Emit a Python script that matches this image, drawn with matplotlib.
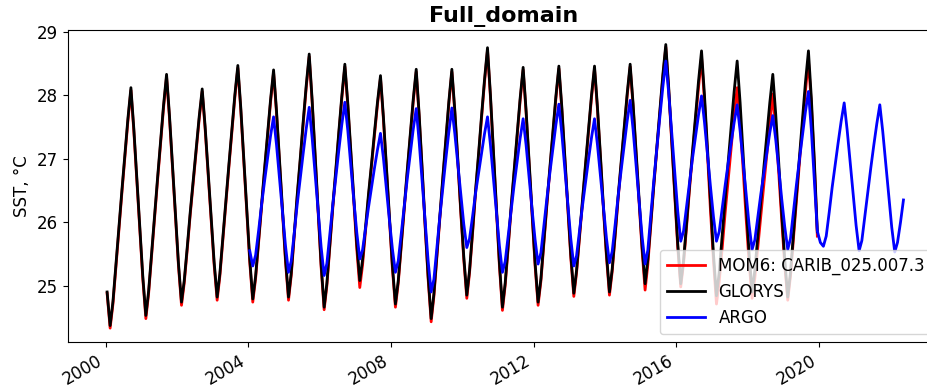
import numpy as np
import pandas as pd
import matplotlib
matplotlib.use('Agg')
import matplotlib.pyplot as plt
import matplotlib.dates as mdates

# monthly mean SST over the full domain, one row per year (Jan..Dec)
glorys_sst = [
    24.90, 24.37, 24.75, 25.35, 25.95, 26.51, 27.07, 27.63, 28.12, 27.47, 26.68, 25.89,  # 2000
    25.14, 24.53, 24.91, 25.52, 26.13, 26.70, 27.27, 27.84, 28.33, 27.68, 26.89, 26.10,  # 2001
    25.35, 24.74, 25.08, 25.61, 26.15, 26.66, 27.16, 27.66, 28.10, 27.51, 26.79, 26.07,  # 2002
    25.38, 24.82, 25.19, 25.77, 26.35, 26.90, 27.45, 28.00, 28.47, 27.81, 27.00, 26.19,  # 2003
    25.42, 24.79, 25.15, 25.73, 26.31, 26.85, 27.39, 27.93, 28.40, 27.76, 26.97, 26.18,  # 2004
    25.43, 24.82, 25.20, 25.82, 26.43, 27.00, 27.58, 28.15, 28.65, 27.93, 27.05, 26.18,  # 2005
    25.34, 24.66, 25.04, 25.66, 26.27, 26.84, 27.42, 27.99, 28.49, 27.88, 27.13, 26.38,  # 2006
    25.66, 25.08, 25.40, 25.92, 26.44, 26.92, 27.41, 27.89, 28.31, 27.66, 26.87, 26.08,  # 2007
    25.32, 24.71, 25.08, 25.67, 26.26, 26.82, 27.37, 27.93, 28.41, 27.70, 26.84, 25.97,  # 2008
    25.15, 24.48, 24.87, 25.50, 26.13, 26.72, 27.31, 27.90, 28.41, 27.77, 26.99, 26.20,  # 2009
    25.46, 24.85, 25.24, 25.86, 26.49, 27.07, 27.66, 28.24, 28.75, 28.01, 27.11, 26.21,  # 2010
    25.36, 24.66, 25.04, 25.64, 26.25, 26.82, 27.38, 27.95, 28.44, 27.77, 26.96, 26.15,  # 2011
    25.37, 24.74, 25.11, 25.71, 26.30, 26.86, 27.42, 27.98, 28.46, 27.82, 27.03, 26.24,  # 2012
    25.49, 24.88, 25.24, 25.81, 26.38, 26.92, 27.46, 28.00, 28.46, 27.82, 27.04, 26.25,  # 2013
    25.51, 24.90, 25.26, 25.83, 26.41, 26.95, 27.49, 28.02, 28.49, 27.87, 27.11, 26.35,  # 2014
    25.62, 25.03, 25.41, 26.01, 26.61, 27.18, 27.74, 28.31, 28.80, 28.12, 27.29, 26.46,  # 2015
    25.67, 25.03, 25.40, 25.98, 26.57, 27.12, 27.67, 28.22, 28.70, 28.01, 27.16, 26.31,  # 2016
    25.50, 24.84, 25.21, 25.80, 26.39, 26.95, 27.50, 28.06, 28.54, 27.89, 27.08, 26.28,  # 2017
    25.52, 24.90, 25.24, 25.79, 26.34, 26.86, 27.37, 27.88, 28.33, 27.70, 26.93, 26.15,  # 2018
    25.42, 24.82, 25.21, 25.83, 26.45, 27.03, 27.61, 28.20, 28.70, 27.95, 26.95, 25.85,  # 2019
]

mom6_sst = [
    24.88, 24.33, 24.71, 25.31, 25.91, 26.47, 27.03, 27.59, 28.08, 27.43, 26.64, 25.85,  # 2000
    25.10, 24.48, 24.87, 25.48, 26.09, 26.66, 27.23, 27.80, 28.29, 27.64, 26.85, 26.06,  # 2001
    25.31, 24.69, 25.04, 25.57, 26.11, 26.62, 27.12, 27.62, 28.06, 27.47, 26.75, 26.03,  # 2002
    25.33, 24.77, 25.15, 25.73, 26.31, 26.86, 27.41, 27.96, 28.43, 27.77, 26.96, 26.15,  # 2003
    25.37, 24.74, 25.11, 25.69, 26.27, 26.81, 27.35, 27.89, 28.36, 27.72, 26.93, 26.14,  # 2004
    25.38, 24.77, 25.16, 25.78, 26.39, 26.96, 27.54, 28.11, 28.61, 27.89, 27.01, 26.14,  # 2005
    25.29, 24.62, 25.00, 25.62, 26.23, 26.80, 27.38, 27.95, 28.45, 27.84, 27.09, 26.34,  # 2006
    25.58, 24.97, 25.32, 25.86, 26.39, 26.88, 27.37, 27.85, 28.27, 27.62, 26.83, 26.04,  # 2007
    25.27, 24.66, 25.04, 25.63, 26.22, 26.78, 27.33, 27.89, 28.37, 27.66, 26.80, 25.93,  # 2008
    25.10, 24.43, 24.83, 25.46, 26.09, 26.68, 27.27, 27.86, 28.37, 27.73, 26.95, 26.16,  # 2009
    25.41, 24.80, 25.20, 25.82, 26.45, 27.03, 27.62, 28.20, 28.71, 27.97, 27.07, 26.17,  # 2010
    25.31, 24.61, 25.00, 25.60, 26.21, 26.78, 27.34, 27.91, 28.40, 27.73, 26.92, 26.11,  # 2011
    25.32, 24.69, 25.07, 25.67, 26.26, 26.82, 27.38, 27.94, 28.42, 27.78, 26.99, 26.20,  # 2012
    25.44, 24.83, 25.20, 25.77, 26.34, 26.88, 27.42, 27.96, 28.42, 27.78, 27.00, 26.21,  # 2013
    25.46, 24.85, 25.22, 25.79, 26.37, 26.91, 27.45, 27.98, 28.45, 27.83, 27.07, 26.31,  # 2014
    25.56, 24.93, 25.33, 25.95, 26.57, 27.14, 27.70, 28.27, 28.76, 28.08, 27.25, 26.42,  # 2015
    25.61, 24.98, 25.35, 25.93, 26.52, 27.07, 27.60, 28.12, 28.60, 27.92, 27.07, 26.20,  # 2016
    25.40, 24.71, 25.06, 25.60, 26.15, 26.66, 27.17, 27.68, 28.12, 27.56, 26.83, 26.08,  # 2017
    25.37, 24.80, 25.12, 25.62, 26.12, 26.59, 27.06, 27.56, 28.02, 27.47, 26.77, 26.04,  # 2018
    25.33, 24.77, 25.15, 25.76, 26.37, 26.94, 27.51, 28.06, 28.55, 27.85, 26.88, 25.78,  # 2019
]

argo_sst = [
    25.55, 25.31, 25.48, 25.87, 26.27, 26.65, 27.00, 27.36, 27.66, 27.22, 26.68, 26.14,  # 2004
    25.63, 25.21, 25.39, 25.83, 26.28, 26.69, 27.08, 27.47, 27.81, 27.33, 26.75, 26.17,  # 2005
    25.61, 25.16, 25.35, 25.82, 26.28, 26.72, 27.13, 27.54, 27.89, 27.45, 26.90, 26.36,  # 2006
    25.84, 25.42, 25.56, 25.90, 26.23, 26.55, 26.85, 27.14, 27.40, 27.01, 26.52, 26.04,  # 2007
    25.58, 25.21, 25.39, 25.83, 26.27, 26.68, 27.07, 27.46, 27.79, 27.27, 26.63, 26.00,  # 2008
    25.39, 24.90, 25.10, 25.60, 26.09, 26.55, 26.99, 27.42, 27.80, 27.40, 26.92, 26.44,  # 2009
    25.97, 25.60, 25.74, 26.09, 26.45, 26.77, 27.08, 27.39, 27.66, 27.22, 26.68, 26.14,  # 2010
    25.63, 25.21, 25.38, 25.79, 26.20, 26.59, 26.95, 27.32, 27.63, 27.22, 26.71, 26.21,  # 2011
    25.73, 25.34, 25.52, 25.95, 26.37, 26.78, 27.15, 27.53, 27.86, 27.40, 26.84, 26.28,  # 2012
    25.74, 25.31, 25.47, 25.87, 26.26, 26.63, 26.98, 27.33, 27.63, 27.22, 26.72, 26.22,  # 2013
    25.75, 25.36, 25.54, 25.97, 26.41, 26.82, 27.20, 27.59, 27.92, 27.46, 26.89, 26.32,  # 2014
    25.78, 25.34, 25.56, 26.11, 26.65, 27.16, 27.64, 28.12, 28.54, 28.03, 27.40, 26.78,  # 2015
    26.18, 25.70, 25.86, 26.25, 26.64, 27.01, 27.35, 27.69, 27.99, 27.58, 27.07, 26.57,  # 2016
    26.09, 25.70, 25.85, 26.22, 26.58, 26.93, 27.25, 27.57, 27.85, 27.44, 26.94, 26.44,  # 2017
    25.96, 25.57, 25.72, 26.08, 26.44, 26.77, 27.09, 27.41, 27.68, 27.30, 26.84, 26.37,  # 2018
    25.93, 25.57, 25.74, 26.17, 26.59, 26.99, 27.36, 27.74, 28.06, 27.45, 26.65, 25.86,  # 2019
    25.68, 25.62, 25.78, 26.16, 26.55, 26.91, 27.25, 27.59, 27.88, 27.46, 26.95, 26.44,  # 2020
    25.95, 25.55, 25.71, 26.10, 26.49, 26.86, 27.21, 27.55, 27.85, 27.43, 26.92, 26.41,  # 2021
    25.92, 25.53, 25.68, 26.00, 26.35,                                                    # 2022
]

# mid-month time stamps
model_time = pd.date_range('2000-01-01', periods=len(glorys_sst), freq='MS') + pd.Timedelta(days=14)
argo_time = pd.date_range('2004-01-01', periods=len(argo_sst), freq='MS') + pd.Timedelta(days=14)

plt.rcParams['font.size'] = 12

fig = plt.figure(figsize=(9.28, 3.89), dpi=100)
ax = fig.add_axes([0.073, 0.12, 0.940, 0.802])

ax.plot(model_time, mom6_sst, color='red', lw=2, label='MOM6: CARIB_025.007.3')
ax.plot(model_time, glorys_sst, color='black', lw=2, label='GLORYS')
ax.plot(argo_time, argo_sst, color='blue', lw=2, label='ARGO')

ax.set_xlim(pd.Timestamp('1998-12-08'), pd.Timestamp('2023-05-25'))
ax.xaxis.set_major_locator(mdates.YearLocator(4))
ax.xaxis.set_major_formatter(mdates.DateFormatter('%Y'))
for lab in ax.get_xticklabels():
    lab.set_rotation(30)
    lab.set_ha('right')

ax.set_yticks([25, 26, 27, 28, 29])
ax.set_ylabel('SST, °C')
ax.set_title('Full_domain', fontsize=16, fontweight='bold')
ax.legend(loc='lower right', fontsize=12, handlelength=2.3)

fig.savefig('out.png', dpi=100)
